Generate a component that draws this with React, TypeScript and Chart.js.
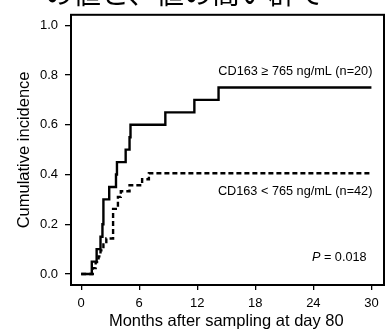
import React, { useEffect, useRef } from "react";
import { Chart, registerables } from "chart.js";

Chart.register(...registerables);

const highTimes = [0, 1.1, 1.6, 2.0, 2.2, 2.3, 2.9, 3.6, 3.7, 4.6, 5.0, 5.1, 8.7, 11.7, 14.2, 30];
const highValues = [0, 0.05, 0.1, 0.15, 0.2, 0.3, 0.35, 0.4, 0.45, 0.5, 0.55, 0.6, 0.65, 0.7, 0.75, 0.75];

const lowTimes = [0, 1.2, 1.5, 1.8, 2.0, 2.3, 2.6, 3.3, 3.8, 4.1, 5.0, 6.3, 7.0, 30];
const lowValues = [0, 0.024, 0.048, 0.071, 0.095, 0.119, 0.143, 0.262, 0.31, 0.333, 0.357, 0.381, 0.405, 0.405];

const xTicks = [0, 6, 12, 18, 24, 30];
const yTicks = [0, 0.2, 0.4, 0.6, 0.8, 1.0];

const highLabel = "CD163 \u2265 765 ng/mL (n=20)";
const lowLabel = "CD163 < 765 ng/mL (n=42)";
const pLabel = "= 0.018";
const xTitle = "Months after sampling at day 80";
const yTitle = "Cumulative incidence";
const topText = "の値と、値の高い群で";

const FONT = "'Liberation Sans', Arial, sans-serif";

export default function App() {
  const ref = useRef<HTMLCanvasElement | null>(null);
  useEffect(() => {
    if (!ref.current) return;
    const textPlugin = {
      id: "texts",
      afterDraw(chart: any) {
        const { ctx, chartArea, scales } = chart;
        const xs = scales.x;
        const ys = scales.y;
        ctx.save();
        ctx.strokeStyle = "#000";
        ctx.lineWidth = 2;
        ctx.strokeRect(chartArea.left, chartArea.top, chartArea.right - chartArea.left, chartArea.bottom - chartArea.top);
        ctx.fillStyle = "#000";
        ctx.font = "28px 'Noto Sans CJK JP'";
        ctx.textAlign = "left";
        ctx.textBaseline = "alphabetic";
        ctx.fillText(topText, 45, 4);
        ctx.font = `12.7px ${FONT}`;
        ctx.textAlign = "right";
        ctx.textBaseline = "middle";
        ctx.fillText(highLabel, xs.getPixelForValue(30.1), ys.getPixelForValue(0.815));
        ctx.fillText(lowLabel, xs.getPixelForValue(30.1), ys.getPixelForValue(0.33));
        const pw = ctx.measureText(pLabel).width;
        const px = xs.getPixelForValue(29.5);
        const py = ys.getPixelForValue(0.068);
        ctx.fillText(pLabel, px, py);
        ctx.font = `italic 12.7px ${FONT}`;
        ctx.fillText("P ", px - pw, py);
        ctx.font = `16.5px ${FONT}`;
        ctx.textAlign = "center";
        ctx.textBaseline = "middle";
        ctx.fillText(xTitle, (xs.getPixelForValue(0) + xs.getPixelForValue(30)) / 2, 321);
        ctx.translate(24, (chartArea.top + chartArea.bottom) / 2);
        ctx.rotate(-Math.PI / 2);
        ctx.fillText(yTitle, 0, 0);
        ctx.restore();
      },
    };
    const chart = new Chart(ref.current, {
      type: "line",
      data: {
        datasets: [
          {
            label: "high",
            data: highTimes.map((t, i) => ({ x: t, y: highValues[i] })),
            stepped: true,
            borderColor: "#000",
            borderWidth: 2.4,
            pointRadius: 0,
            fill: false,
          },
          {
            label: "low",
            data: lowTimes.map((t, i) => ({ x: t, y: lowValues[i] })),
            stepped: true,
            borderColor: "#000",
            borderWidth: 2.4,
            borderDash: [5, 3],
            pointRadius: 0,
            fill: false,
          },
        ],
      },
      options: {
        animation: false,
        responsive: false,
        maintainAspectRatio: false,
        layout: { padding: { top: 12, right: 1, left: 0, bottom: 0 } },
        plugins: { legend: { display: false }, tooltip: { enabled: false }, title: { display: false } },
        scales: {
          x: {
            type: "linear",
            min: -1.05,
            max: 31.3,
            afterBuildTicks: (s: any) => {
              s.ticks = xTicks.map((v) => ({ value: v }));
            },
            afterFit: (s: any) => {
              s.height = 47;
            },
            border: { display: false },
            grid: { drawOnChartArea: false, drawTicks: true, tickLength: 5, color: "#000", lineWidth: 1.3 },
            ticks: { color: "#000", font: { family: FONT, size: 13 }, padding: 6, maxRotation: 0 },
          },
          y: {
            type: "linear",
            min: -0.044,
            max: 1.042,
            afterBuildTicks: (s: any) => {
              s.ticks = yTicks.map((v) => ({ value: v }));
            },
            afterFit: (s: any) => {
              s.width = 71;
            },
            border: { display: false },
            grid: { drawOnChartArea: false, drawTicks: true, tickLength: 6, color: "#000", lineWidth: 1.3 },
            ticks: { color: "#000", font: { family: FONT, size: 13 }, padding: 7, callback: (v: any) => Number(v).toFixed(1) },
          },
        },
      },
      plugins: [textPlugin],
    });
    return () => chart.destroy();
  }, []);
  return (
    <div style={{ position: "fixed", left: 0, top: 0, width: 385, height: 332, background: "#fff" }}>
      <canvas ref={ref} width={385} height={332} style={{ width: 385, height: 332, display: "block" }} />
    </div>
  );
}
